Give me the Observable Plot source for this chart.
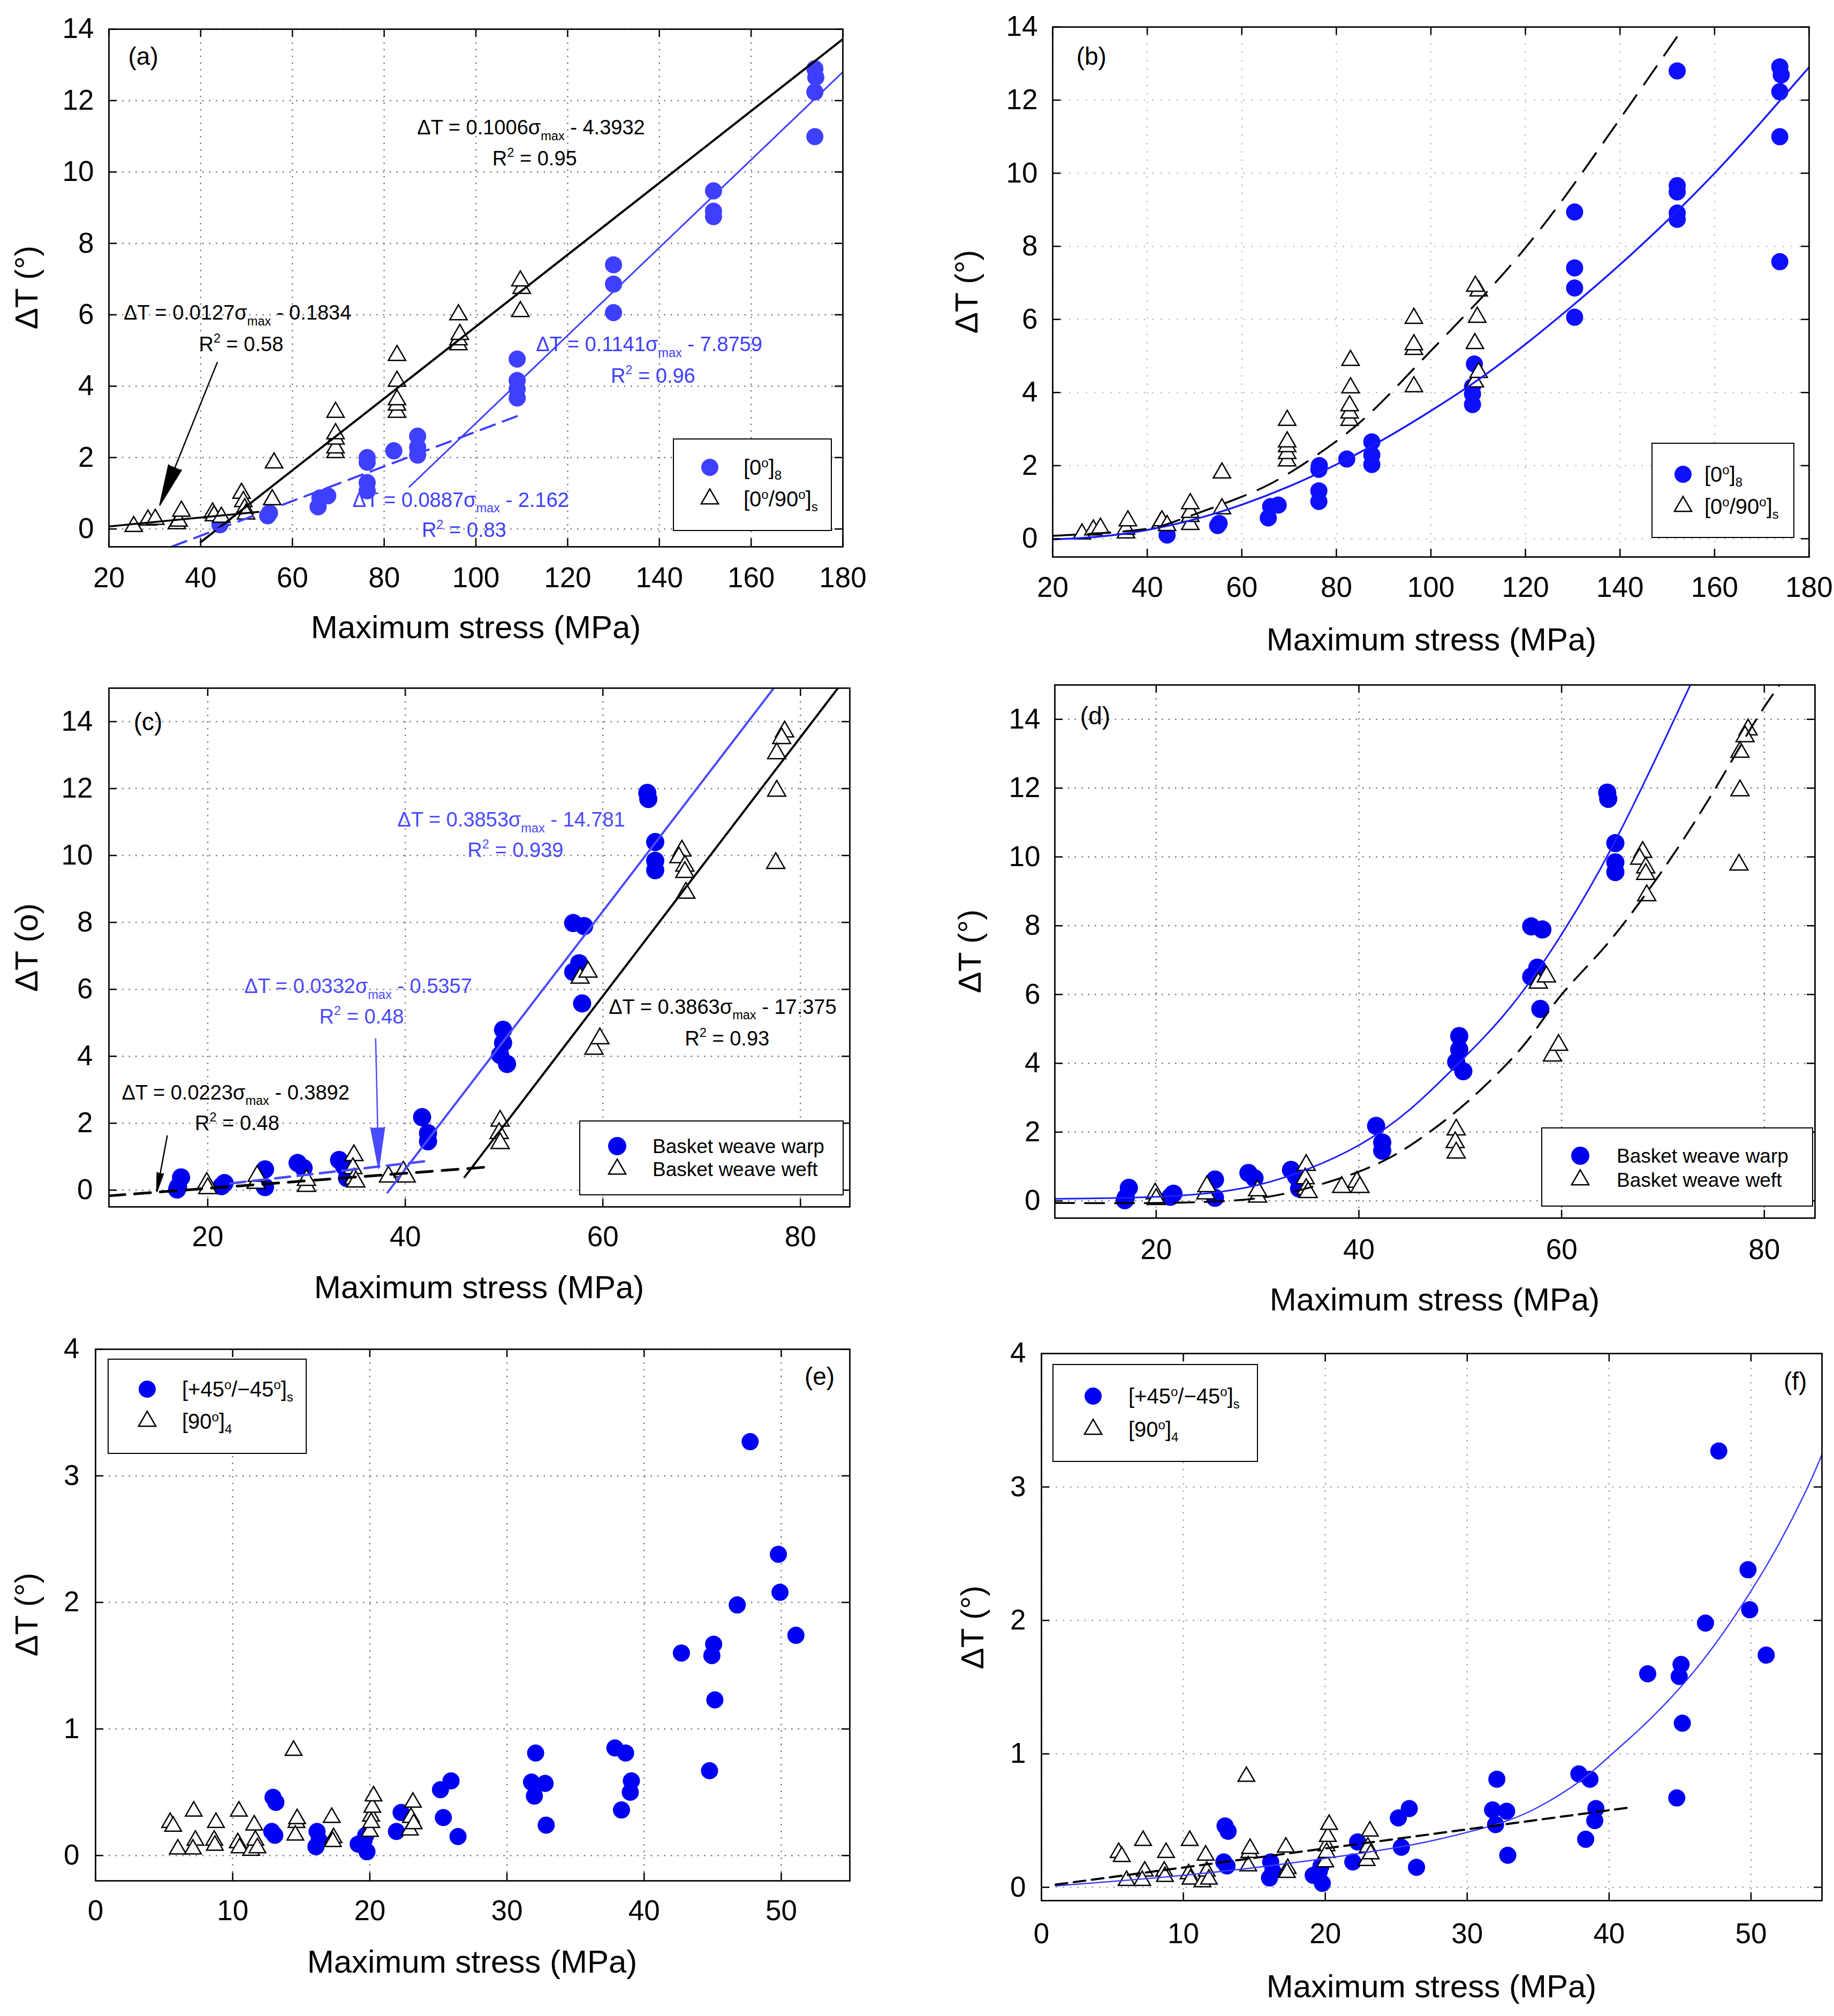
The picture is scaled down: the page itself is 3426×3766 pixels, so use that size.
<!DOCTYPE html>
<html>
<head>
<meta charset="utf-8">
<script src="https://cdn.jsdelivr.net/npm/d3@7"></script>
<script src="https://cdn.jsdelivr.net/npm/@observablehq/plot@0.6"></script>
<style>
html,body{margin:0;padding:0;background:#fff;}
#fig{position:relative;width:3426px;height:3766px;background:#fff;font-family:"Liberation Sans",Arial,Helvetica,sans-serif;color:#000;overflow:hidden;}
.xlab,.ylab{position:absolute;font-size:60px;white-space:nowrap;line-height:1;}
.xlab{transform:translate(-50%,-50%);}
.ylab{transform:translate(-50%,-50%) rotate(-90deg);}
.legend{position:absolute;border:2.5px solid #000;background:#fff;box-sizing:border-box;}
.ltext{position:absolute;line-height:1;white-space:nowrap;transform:translateY(-50%);}
.ltext sup,.ltext sub{font-size:60%;line-height:0;}
.lsym{position:absolute;overflow:visible;}
</style>
</head>
<body>
<div id="fig"></div>
<script>
// ---------------- DATA ----------------
// Panels (a) and (b): [0°]8 (blue dots) and [0°/90°]s (triangles)
const abXTicks = [20, 40, 60, 80, 100, 120, 140, 160, 180];
const abYTicks = [0, 2, 4, 6, 8, 10, 12, 14];
const aUni = [[44.2,0.12],[54.6,0.37],[55,0.45],[65.6,0.62],[66,0.87],[67.7,0.93],[76.3,1.07],[76.3,1.3],[76.3,1.87],[76.3,2.0],[82.1,2.19],[87.3,2.07],[87.3,2.29],[87.3,2.6],[109,3.67],[109,3.92],[109,4.16],[109,4.76],[130,6.06],[130,6.86],[130,7.4],[151.8,8.75],[151.8,8.9],[151.8,9.47],[173.9,10.99],[173.9,12.24],[174.1,12.65],[173.9,12.89]];
const aCross = [[25.4,0.07],[28.5,0.25],[30.1,0.27],[34.8,0.15],[35.2,0.22],[35.8,0.5],[42.6,0.45],[42.9,0.37],[44.5,0.33],[48.9,1.0],[49.3,0.77],[49.6,0.57],[49.9,0.42],[55.6,0.82],[56,1.85],[69.4,2.14],[69.4,2.27],[69.4,2.52],[69.4,2.67],[69.4,3.27],[82.8,3.27],[82.8,3.47],[82.8,3.62],[82.8,4.14],[82.8,4.86],[96.2,5.16],[96.2,5.3],[96.5,5.45],[96.2,6.0],[109.7,6.09],[110,6.74],[109.7,6.95]];
const bUni = [[44.2,0.1],[54.9,0.36],[55.2,0.42],[65.6,0.57],[66.1,0.88],[67.7,0.92],[76.3,1.02],[76.3,1.31],[76.3,1.9],[76.4,2.0],[82.2,2.18],[87.5,2.03],[87.5,2.29],[87.5,2.65],[108.8,3.67],[108.8,3.96],[108.8,4.16],[109.2,4.78],[130.4,6.06],[130.4,6.86],[130.4,7.41],[130.4,8.94],[152.1,8.74],[152.1,8.91],[152.1,9.49],[152.1,9.66],[152.1,12.8],[173.8,7.58],[173.8,11.0],[173.8,12.23],[174.1,12.69],[173.8,12.91]];
const bCross = [[26.2,0.13],[28.6,0.24],[30.1,0.29],[35.5,0.16],[35.5,0.26],[35.9,0.49],[42.8,0.43],[43.1,0.49],[44.2,0.36],[49.1,0.39],[49.1,0.61],[49.1,0.72],[49.1,0.96],[55.8,0.82],[55.8,1.8],[69.6,2.13],[69.6,2.33],[69.6,2.52],[69.6,2.65],[69.6,3.24],[82.8,3.24],[82.8,3.44],[82.8,3.64],[83,4.13],[83,4.88],[96.4,4.16],[96.4,5.18],[96.4,5.31],[96.4,6.03],[109.3,4.29],[110.1,4.55],[109.3,5.34],[109.8,6.06],[110.1,6.78],[109.4,6.91]];
// fit lines drawn in (a)
const aCrossFitHigh = [[40,-0.37],[180,13.72]];
const aCrossFitLow = [[20,0.07],[52.6,0.48]];
const aUniFitLow = [[33.8,-0.49],[110.2,3.22]];
const aUniFitHigh = [[85.5,1.18],[180,12.8]];
const aArrow = [[43.6,4.66,31.1,0.67]];
// fitted curves drawn in (b)
const bUniCurve = [[20,-0.02],[30,0.06],[40,0.24],[50,0.53],[60,0.93],[70,1.43],[80,2.03],[90,2.72],[100,3.5],[110,4.35],[120,5.32],[130,6.38],[140,7.5],[150,8.7],[160,10.0],[170,11.42],[180,12.9]];
const bCrossCurve = [[20,0.08],[30,0.15],[40,0.27],[46,0.48],[56,0.95],[66,1.5],[76,2.3],[86,3.3],[96,4.6],[106,5.95],[116,7.35],[126,8.95],[136,10.75],[146,12.6],[153.5,14]];

// Panels (c) and (d): basket weave warp (blue dots) and weft (triangles)
const cdXTicks = [20, 40, 60, 80];
const cdYTicks = [0, 2, 4, 6, 8, 10, 12, 14];
const warp = [[16.9,0.02],[17.3,0.38],[17.0,0.1],[21.4,0.12],[21.7,0.21],[25.8,0.09],[25.8,0.62],[29.1,0.81],[29.7,0.66],[33.3,0.9],[33.8,0.71],[34.1,0.36],[41.7,2.18],[42.3,1.7],[42.3,1.46],[49.9,4.79],[49.9,4.4],[49.6,4.04],[50.3,3.77],[57.0,7.98],[58.1,7.89],[57.6,6.78],[57.0,6.52],[57.9,5.58],[64.5,11.87],[64.6,11.69],[65.3,10.4],[65.3,9.84],[65.3,9.56]];
const weft = [[19.9,0.21],[20.0,0.05],[24.9,0.21],[25.0,0.42],[30.0,0.12],[30.0,0.3],[34.8,1.04],[34.7,0.65],[34.8,0.34],[35.0,0.25],[38.3,0.4],[39.8,0.55],[40.1,0.4],[49.6,2.07],[49.5,1.7],[49.6,1.4],[57.7,6.34],[58.5,6.52],[59.1,4.22],[59.7,4.53],[68.0,10.14],[67.7,9.94],[68.3,9.69],[68.3,9.5],[68.4,8.88],[78.4,13.7],[78.1,13.5],[77.6,13.05],[77.6,11.93],[77.5,9.77]];
// fit lines drawn in (c)
const cWarpFitHigh = [[38.2,-0.07],[77.3,15]];
const cWeftFitHigh = [[46,0.39],[83.8,15]];
const cWeftFitLow = [[10,-0.17],[48.3,0.69]];
const cWarpFitLow = [[22.3,0.2],[42.5,0.88]];
const cArrowBlack = [[15.9,1.62,14.85,-0.04]];
const cArrowBlue = [[37.0,4.52,37.3,0.66]];
// fitted curves drawn in (d)
const dWarpCurve = [[10,0.06],[15,0.08],[20,0.12],[25,0.22],[30,0.46],[35,0.93],[40,1.62],[45,2.65],[50,4.05],[55,5.65],[60,7.75],[65,10.3],[70,13.3],[72.7,15]];
const dWeftCurve = [[10,-0.06],[20,-0.06],[27,0],[31,0.12],[34,0.3],[37,0.55],[40,0.85],[43,1.25],[46,1.8],[50,2.7],[54,3.8],[57,4.8],[60,6.0],[64,7.3],[68,8.8],[72,10.5],[76,12.4],[79,13.9],[81.5,15]];

// Panels (e) and (f): [+45°/-45°]s (blue dots) and [90°]4 (triangles)
const efXTicks = [0, 10, 20, 30, 40, 50];
const efYTicks = [0, 1, 2, 3, 4];
const angle = [[12.85,0.19],[13.07,0.16],[12.94,0.46],[13.15,0.42],[16.07,0.07],[16.15,0.19],[16.3,0.12],[19.15,0.09],[19.58,0.12],[19.79,0.03],[19.7,0.16],[21.94,0.19],[22.28,0.34],[25.15,0.52],[25.92,0.59],[25.36,0.3],[26.43,0.15],[31.79,0.58],[32.09,0.81],[32.0,0.47],[32.78,0.57],[32.86,0.24],[37.87,0.85],[38.65,0.81],[38.35,0.36],[39.07,0.59],[38.99,0.5],[42.72,1.6],[44.77,0.67],[44.94,1.58],[45.07,1.67],[45.16,1.23],[46.79,1.98],[47.73,3.27],[49.79,2.38],[49.91,2.08],[51.07,1.74]];
const trans = [[5.44,0.26],[5.66,0.23],[6.0,0.05],[7.16,0.35],[7.28,0.12],[7.1,0.05],[8.65,0.12],[8.78,0.26],[8.7,0.08],[10.45,0.35],[10.37,0.1],[10.5,0.06],[11.35,0.04],[11.57,0.24],[11.65,0.12],[11.8,0.06],[14.44,0.83],[14.65,0.26],[14.57,0.16],[14.7,0.29],[17.22,0.3],[17.35,0.14],[17.3,0.11],[20.0,0.19],[20.09,0.31],[20.18,0.38],[20.27,0.47],[20.1,0.26],[22.92,0.2],[23.0,0.3],[23.14,0.42],[23.2,0.25]];
// fitted curves drawn in (f)
const fAngleCurve = [[1,0.01],[8,0.07],[16,0.16],[24,0.28],[28,0.36],[32,0.47],[35,0.6],[38,0.8],[40,0.98],[42,1.17],[44,1.38],[46,1.62],[48,1.9],[50,2.22],[52,2.58],[54,3.0],[55.1,3.27]];
const fTransLine = [[1,0.02],[41.6,0.6]];

// annotations [x, y, text]
const aNotesBlack = [[87.2,11.05,"ΔT = 0.1006σ_{max} - 4.3932"],[103.6,10.19,"R^{2} = 0.95"],[23.2,5.86,"ΔT = 0.0127σ_{max} - 0.1834"],[39.6,4.98,"R^{2} = 0.58"]];
const aNotesBlue = [[113.1,4.98,"ΔT = 0.1141σ_{max} - 7.8759"],[129.4,4.1,"R^{2} = 0.96"],[73.1,0.62,"ΔT = 0.0887σ_{max} - 2.162"],[88.2,-0.23,"R^{2} = 0.83"]];
const cNotesBlack = [[60.6,5.27,"ΔT = 0.3863σ_{max} - 17.375"],[68.3,4.33,"R^{2} = 0.93"],[11.3,2.71,"ΔT = 0.0223σ_{max} - 0.3892"],[18.7,1.8,"R^{2} = 0.48"]];
const cNotesBlue = [[39.2,10.86,"ΔT = 0.3853σ_{max} - 14.781"],[46.3,9.95,"R^{2} = 0.939"],[23.7,5.89,"ΔT = 0.0332σ_{max} - 0.5357"],[31.3,4.98,"R^{2} = 0.48"]];
const tags = {a:[[24.2,13.0,"(a)"]], b:[[25,12.97,"(b)"]], c:[[12.5,13.75,"(c)"]], d:[[12.5,13.86,"(d)"]], e:[[51.7,3.72,"(e)"]], f:[[52.3,3.73,"(f)"]]};
const abLegend = ["[0<sup>o</sup>]<sub>8</sub>", "[0<sup>o</sup>/90<sup>o</sup>]<sub>s</sub>"];
const cdLegend = ["Basket weave warp", "Basket weave weft"];
const efLegend = ["[+45<sup>o</sup>/−45<sup>o</sup>]<sub>s</sub>", "[90<sup>o</sup>]<sub>4</sub>"];
const xTitle = "Maximum stress (MPa)";

// ---------------- DRAWING ----------------
const FONT = '"Liberation Sans", Arial, Helvetica, sans-serif';
const SVGNS = "http://www.w3.org/2000/svg";
const fig = document.getElementById("fig");
const X = d => d[0], Y = d => d[1];

function richText(svg) {
  svg.querySelectorAll("text").forEach(t => {
    const s = t.textContent;
    if (!/[_^]\{/.test(s)) return;
    const fs = parseFloat(t.getAttribute("font-size") || (t.parentNode && t.parentNode.getAttribute("font-size")) || 38);
    const parts = s.split(/([_^]\{[^}]*\})/).filter(p => p.length);
    while (t.firstChild) t.removeChild(t.firstChild);
    let shift = 0;
    for (const p of parts) {
      const ts = document.createElementNS(SVGNS, "tspan");
      let target = 0, txt = p, small = false;
      if (p.startsWith("_{")) { target = 0.28 * fs; txt = p.slice(2, -1); small = true; }
      else if (p.startsWith("^{")) { target = -0.42 * fs; txt = p.slice(2, -1); small = true; }
      if (target - shift !== 0) ts.setAttribute("dy", target - shift);
      shift = target;
      if (small) ts.setAttribute("font-size", (0.62 * fs) + "px");
      ts.textContent = txt;
      t.appendChild(ts);
    }
  });
}

// fill the arrowheads drawn by Plot.arrow
function fillArrowHeads(svg) {
  svg.querySelectorAll('g[aria-label="arrow"]').forEach(g => {
    const color = g.getAttribute("stroke") || "#000";
    g.querySelectorAll("path").forEach(p => {
      const nums = (p.getAttribute("d").match(/-?\d*\.?\d+(?:e-?\d+)?/g) || []).map(Number);
      const n = nums.length;
      if (n < 6) return;
      const head = document.createElementNS(SVGNS, "path");
      head.setAttribute("d", `M${nums[n-6]},${nums[n-5]}L${nums[n-4]},${nums[n-3]}L${nums[n-2]},${nums[n-1]}Z`);
      head.setAttribute("fill", p.getAttribute("stroke") || color);
      head.setAttribute("stroke", "none");
      g.appendChild(head);
    });
  });
}

function panel(cfg) {
  const innerH = cfg.h - cfg.mt - cfg.mb;
  const innerW = cfg.w - cfg.ml - cfg.mr;
  const g = {stroke: cfg.grid, strokeOpacity: 1, strokeWidth: 2.5, strokeDasharray: cfg.gridDash};
  const tk = {stroke: "#000", strokeWidth: 2.5};
  const svg = Plot.plot({
    width: cfg.w, height: cfg.h,
    marginLeft: cfg.ml, marginRight: cfg.mr, marginTop: cfg.mt, marginBottom: cfg.mb,
    style: {background: "transparent", fontFamily: FONT, fontSize: "53px", color: "#000", overflow: "visible"},
    x: {domain: cfg.xd, label: null},
    y: {domain: cfg.yd, label: null},
    marks: [
      Plot.gridX({ticks: cfg.xt, ...g}),
      Plot.gridY({ticks: cfg.yt, ...g}),
      ...cfg.marks,
      Plot.frame({stroke: "#000", strokeWidth: 2.7}),
      Plot.tickX(cfg.xt, {x: d => d, insetTop: innerH - 15, ...tk}),
      Plot.tickX(cfg.xt, {x: d => d, insetBottom: innerH - 15, ...tk}),
      Plot.tickY(cfg.yt, {y: d => d, insetRight: innerW - 15, ...tk}),
      Plot.tickY(cfg.yt, {y: d => d, insetLeft: innerW - 15, ...tk}),
      Plot.axisX({ticks: cfg.xt, tickSize: 0, tickPadding: cfg.xpad, tickFormat: d => String(d), label: null}),
      Plot.axisY({ticks: cfg.yt, tickSize: 0, tickPadding: cfg.ypad, tickFormat: d => String(d), label: null})
    ]
  });
  svg.style.position = "absolute";
  svg.style.left = cfg.left + "px";
  svg.style.top = cfg.top + "px";
  fig.appendChild(svg);
  richText(svg);
  fillArrowHeads(svg);
  // axis titles
  const xl = document.createElement("div");
  xl.className = "xlab"; xl.textContent = xTitle;
  xl.style.left = cfg.xlab[0] + "px"; xl.style.top = cfg.xlab[1] + "px";
  fig.appendChild(xl);
  const yl = document.createElement("div");
  yl.className = "ylab"; yl.textContent = cfg.ytitle;
  yl.style.left = cfg.ylab[0] + "px"; yl.style.top = cfg.ylab[1] + "px";
  fig.appendChild(yl);
  // legend
  const L = cfg.legend;
  const box = document.createElement("div");
  box.className = "legend";
  Object.assign(box.style, {left: L.box[0] + "px", top: L.box[1] + "px", width: (L.box[2] - L.box[0]) + "px", height: (L.box[3] - L.box[1]) + "px"});
  fig.appendChild(box);
  L.labels.forEach((lab, i) => {
    const s = document.createElementNS(SVGNS, "svg");
    s.setAttribute("class", "lsym");
    s.setAttribute("width", 40); s.setAttribute("height", 40);
    s.style.left = (L.mx - 20) + "px"; s.style.top = (L.rows[i] - 20) + "px";
    const p = document.createElementNS(SVGNS, "path");
    if (i === 0) {
      p.setAttribute("d", d3.symbol(d3.symbolCircle, Math.PI * L.r * L.r)());
      p.setAttribute("fill", L.color);
    } else {
      p.setAttribute("d", d3.symbol(d3.symbolTriangle, Math.PI * 12 * 12)());
      p.setAttribute("fill", "#fff"); p.setAttribute("stroke", "#000"); p.setAttribute("stroke-width", 2.5);
    }
    p.setAttribute("transform", "translate(20,20)");
    s.appendChild(p);
    fig.appendChild(s);
    const t = document.createElement("div");
    t.className = "ltext"; t.innerHTML = lab;
    t.style.fontSize = L.fs + "px";
    t.style.left = L.tx + "px"; t.style.top = L.rows[i] + "px";
    fig.appendChild(t);
  });
}

const note = (data, color, fs = 38) => Plot.text(data, {x: X, y: Y, text: d => d[2], textAnchor: "start", lineAnchor: "bottom", fontSize: fs, fill: color});
const dots = (data, color, r) => Plot.dot(data, {x: X, y: Y, r, fill: color, stroke: "none"});
const tris = (data, r) => Plot.dot(data, {x: X, y: Y, symbol: "triangle", r, fill: "#fff", stroke: "#000", strokeWidth: 2.5});
const fit = (data, color, w, dash, curve) => Plot.line(data, {x: X, y: Y, stroke: color, strokeWidth: w, strokeDasharray: dash, curve: curve || "linear", clip: true});
const arrow = (data, color) => Plot.arrow(data, {x1: d => d[0], y1: d => d[1], x2: d => d[2], y2: d => d[3], stroke: color, strokeWidth: 2.5, headLength: 46, headAngle: 19});

const aBlue = "#3f3fff", bBlue = "#0f0fff", bLine = "#1a1aff", cBlue = "#0000f0", cLine = "#4a4aff", dLine = "#1f1fff", eBlue = "#0000f5", fLine = "#3c3cff";

// (a)
panel({left: 0, top: 0, w: 1713, h: 1240, ml: 203, mr: 139, mt: 54, mb: 219,
  xd: [20, 180], yd: [-0.5, 14], xt: abXTicks, yt: abYTicks, xpad: 38, ypad: 28,
  grid: "#777", gridDash: "2.5,10", ytitle: "ΔT (°)", xlab: [889, 1172], ylab: [50, 537],
  legend: {box: [1257, 819, 1554, 992], mx: 1326, rows: [873, 932], tx: 1389, labels: abLegend, color: aBlue, r: 16, fs: 40},
  marks: [
    dots(aUni, aBlue, 16), tris(aCross, 12),
    fit(aCrossFitHigh, "#000", 4), fit(aCrossFitLow, "#000", 3.5),
    fit(aUniFitLow, aBlue, 4, "28,16"), fit(aUniFitHigh, aBlue, 3),
    arrow(aArrow, "#000"),
    note(aNotesBlack, "#000"), note(aNotesBlue, aBlue), note(tags.a, "#000", 46)
  ]});
// (b)
panel({left: 1713, top: 0, w: 1713, h: 1240, ml: 253, mr: 47, mt: 50, mb: 200,
  xd: [20, 180], yd: [-0.5, 14], xt: abXTicks, yt: abYTicks, xpad: 37, ypad: 28,
  grid: "#bbb", gridDash: "2.5,13", ytitle: "ΔT (°)", xlab: [2674, 1195], ylab: [1806, 545],
  legend: {box: [3085, 827, 3352, 1005], mx: 3144, rows: [886, 946], tx: 3184, labels: abLegend, color: bBlue, r: 16, fs: 40},
  marks: [
    dots(bUni, bBlue, 16), tris(bCross, 12),
    fit(bUniCurve, bLine, 3.5, null, "natural"), fit(bCrossCurve, "#000", 3.5, "42,24", "natural"),
    note(tags.b, "#000", 46)
  ]});
// (c)
panel({left: 0, top: 1240, w: 1713, h: 1240, ml: 203, mr: 126, mt: 45, mb: 226,
  xd: [10, 85], yd: [-0.5, 15], xt: cdXTicks, yt: cdYTicks, xpad: 36, ypad: 30,
  grid: "#777", gridDash: "2.5,10", ytitle: "ΔT (o)", xlab: [895, 2405], ylab: [50, 1770],
  legend: {box: [1082, 2093, 1576, 2233], mx: 1153, rows: [2141, 2184], tx: 1219, labels: cdLegend, color: cBlue, r: 17, fs: 37},
  marks: [
    dots(warp, cBlue, 17), tris(weft, 12.5),
    fit(cWarpFitHigh, cLine, 4), fit(cWeftFitHigh, "#000", 4),
    fit(cWeftFitLow, "#000", 5, "30,18"), fit(cWarpFitLow, cLine, 4.5, "28,14"),
    arrow(cArrowBlack, "#000"), arrow(cArrowBlue, cLine),
    note(cNotesBlack, "#000"), note(cNotesBlue, cLine), note(tags.c, "#000", 46)
  ]});
// (d)
panel({left: 1713, top: 1240, w: 1713, h: 1240, ml: 257, mr: 36, mt: 39, mb: 205,
  xd: [10, 85], yd: [-0.5, 15], xt: cdXTicks, yt: cdYTicks, xpad: 39, ypad: 27,
  grid: "#777", gridDash: "2.5,10", ytitle: "ΔT (°)", xlab: [2680, 2428], ylab: [1812, 1777],
  legend: {box: [2879, 2106, 3387, 2254], mx: 2952, rows: [2159, 2204], tx: 3020, labels: cdLegend, color: cBlue, r: 17, fs: 37},
  marks: [
    dots(warp, cBlue, 17), tris(weft, 12.5),
    fit(dWarpCurve, dLine, 3, null, "natural"), fit(dWeftCurve, "#000", 3.5, "36,20", "natural"),
    note(tags.d, "#000", 46)
  ]});
// (e)
panel({left: 0, top: 2480, w: 1713, h: 1286, ml: 178, mr: 126, mt: 40, mb: 253,
  xd: [0, 55], yd: [-0.2, 4], xt: efXTicks, yt: efYTicks, xpad: 36, ypad: 30,
  grid: "#777", gridDash: "2.5,10", ytitle: "ΔT (°)", xlab: [882, 3665], ylab: [50, 3016],
  legend: {box: [201, 2538, 573, 2716], mx: 275, rows: [2595, 2655], tx: 340, labels: efLegend, color: eBlue, r: 16, fs: 40},
  marks: [
    dots(angle, eBlue, 16), tris(trans, 11.5),
    note(tags.e, "#000", 46)
  ]});
// (f)
panel({left: 1713, top: 2480, w: 1713, h: 1286, ml: 232, mr: 23, mt: 48, mb: 216,
  xd: [0, 55], yd: [-0.1, 4], xt: efXTicks, yt: efYTicks, xpad: 42, ypad: 29,
  grid: "#a0a0a0", gridDash: "2.5,11", ytitle: "ΔT (°)", xlab: [2674, 3711], ylab: [1817, 3040],
  legend: {box: [1966, 2548, 2350, 2731], mx: 2042, rows: [2608, 2670], tx: 2108, labels: efLegend, color: eBlue, r: 16, fs: 40},
  marks: [
    dots(angle, eBlue, 16), tris(trans, 11.5),
    fit(fAngleCurve, fLine, 2.5, null, "natural"), fit(fTransLine, "#000", 4, "22,12"),
    note(tags.f, "#000", 46)
  ]});
</script>
</body>
</html>
